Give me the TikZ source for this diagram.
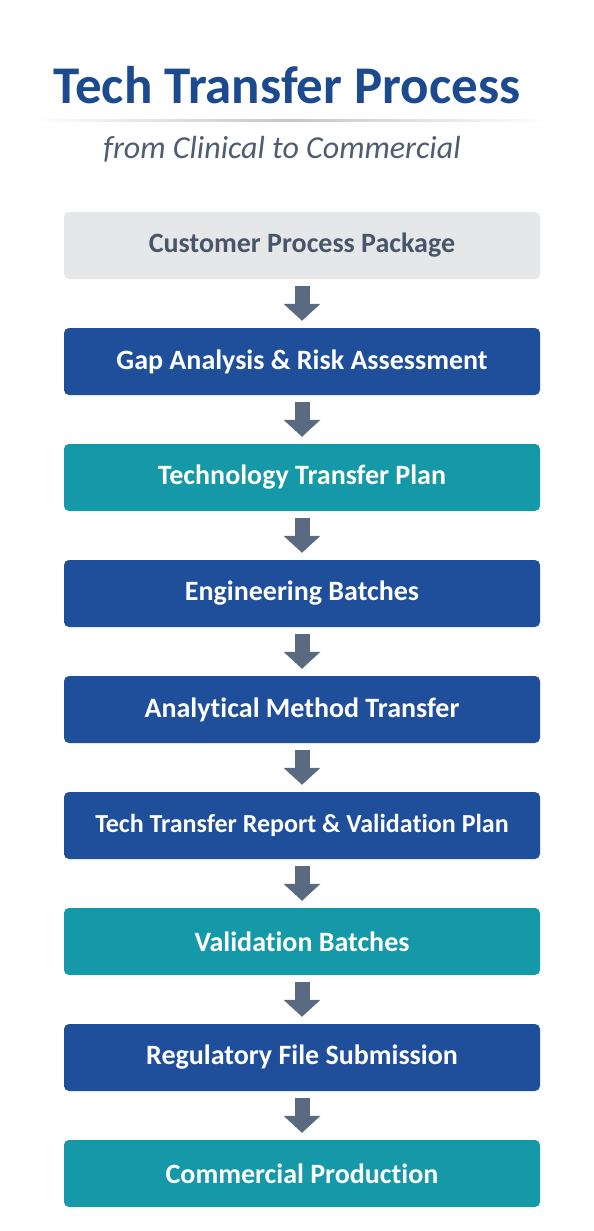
\documentclass[tikz,border=0pt]{standalone}
\usepackage{fontspec}
\setmainfont{Carlito}[Ligatures=NoCommon, Contextuals=NoAlternate]
\usetikzlibrary{arrows.meta,positioning}
\definecolor{titleblue}{HTML}{1B4A8E}
\definecolor{subgray}{HTML}{4E5D72}
\definecolor{darkblue}{HTML}{1F4F9B}
\definecolor{tealbox}{HTML}{1598A8}
\definecolor{lightbox}{HTML}{E6E7E9}
\definecolor{boxtext}{HTML}{48556A}
\definecolor{arrowgray}{HTML}{5A6A80}

\begin{document}
\begin{tikzpicture}[x=1pt,y=1pt]
\tikzstyle{stap} = [rounded corners=5pt, minimum height=67pt, minimum width=476pt, inner sep=0pt, font=\fontsize{28}{30}\selectfont\bfseries, text=white]
\tikzstyle{grijs} = [stap, fill=lightbox, text=boxtext]
\tikzstyle{blauw} = [stap, fill=darkblue]
\tikzstyle{groen} = [stap, fill=tealbox]
\tikzstyle{pijl} = [draw=arrowgray, line width=15pt, shorten <=7pt, shorten >=7pt, -{Triangle[width=36pt,length=17pt]}]

\useasboundingbox (0,0) rectangle (594,-1231);
\fill[white] (0,0) rectangle (594,-1231);

% titel
\node [anchor=base, text=titleblue, font=\fontsize{53}{56}\selectfont\bfseries] (titel) at (287,-103) {Tech Transfer Process};
\shade [left color=white, right color=white, middle color=gray!45] (30,-119) rectangle (550,-121.5);
\node [anchor=base, text=subgray, font=\fontsize{32}{35}\selectfont\itshape] (sub) at (282,-158) {from Clinical to Commercial};

% stappen
\node [grijs] (pakket) at (302,-245.5) {Customer Process Package};

\node [blauw] (gap) [below of=pakket, node distance=116pt] {Gap Analysis \& Risk Assessment};
\draw [pijl] (pakket) -- (gap);

\node [groen] (plan) [below of=gap, node distance=116pt] {Technology Transfer Plan};
\draw [pijl] (gap) -- (plan);

\node [blauw] (engbatch) [below of=plan, node distance=116pt] {Engineering Batches};
\draw [pijl] (plan) -- (engbatch);

\node [blauw] (methode) [below of=engbatch, node distance=116pt] {Analytical Method Transfer};
\draw [pijl] (engbatch) -- (methode);

\node [blauw, font=\fontsize{26}{28}\selectfont\bfseries] (rapport) [below of=methode, node distance=116pt] {Tech Transfer Report \& Validation Plan};
\draw [pijl] (methode) -- (rapport);

\node [groen] (valbatch) [below of=rapport, node distance=116pt] {Validation Batches};
\draw [pijl] (rapport) -- (valbatch);

\node [blauw] (dossier) [below of=valbatch, node distance=116pt] {Regulatory File Submission};
\draw [pijl] (valbatch) -- (dossier);

\node [groen] (productie) [below of=dossier, node distance=116pt] {Commercial Production};
\draw [pijl] (dossier) -- (productie);
\end{tikzpicture}
\end{document}
